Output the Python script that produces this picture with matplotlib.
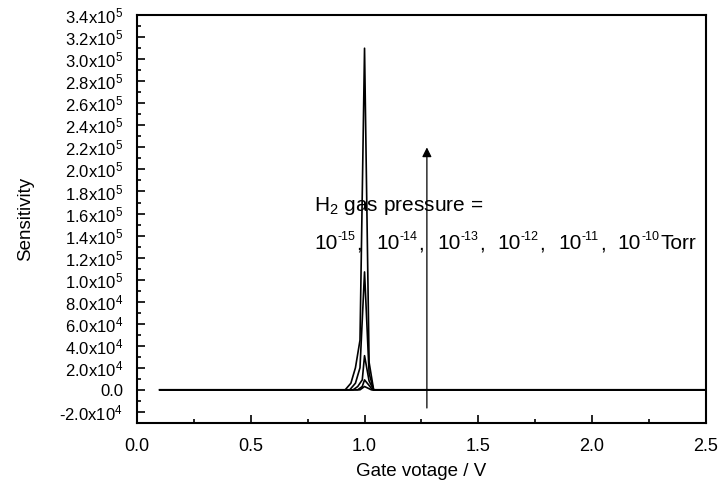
import math
import matplotlib
matplotlib.use("Agg")
import matplotlib.pyplot as plt
from matplotlib.ticker import MultipleLocator, FuncFormatter

plt.rcParams['font.family'] = ['Liberation Sans', 'DejaVu Sans']
plt.rcParams['mathtext.fontset'] = 'custom'
plt.rcParams['mathtext.rm'] = 'Liberation Sans'
plt.rcParams['mathtext.it'] = 'Liberation Sans'

# Gate voltage (V) and sensitivity for H2 pressures (1e-15 ... 1e-10 Torr)
x_p15 = [0.10, 0.98, 1.00, 1.02, 1.03, 2.50]
y_p15 = [0, 0, 3.0e3, 1.0e3, 0, 0]
x_p14 = [0.10, 0.97, 0.99, 1.00, 1.02, 1.035, 2.50]
y_p14 = [0, 0, 3.0e3, 9.0e3, 4.0e3, 0, 0]
x_p13 = [0.10, 0.95, 0.97, 0.99, 1.00, 1.02, 1.04, 2.50]
y_p13 = [0, 0, 3.0e3, 9.0e3, 3.1e4, 8.0e3, 0, 0]
x_p12 = [0.10, 0.935, 0.96, 0.98, 1.00, 1.02, 1.04, 2.50]
y_p12 = [0, 0, 6.0e3, 2.0e4, 1.07e5, 1.5e4, 0, 0]
x_p11 = [0.10, 0.915, 0.94, 0.96, 0.98, 1.00, 1.02, 1.04, 2.50]
y_p11 = [0, 0, 6.0e3, 2.0e4, 4.5e4, 3.1e5, 2.5e4, 0, 0]

series = [(x_p15, y_p15), (x_p14, y_p14), (x_p13, y_p13), (x_p12, y_p12), (x_p11, y_p11)]

pressure_exps = ['-15', '-14', '-13', '-12', '-11', '-10']

fig = plt.figure(figsize=(7.21, 4.90), dpi=100)
ax = fig.add_axes([0.190, 0.137, 0.789, 0.832])

for xs, ys in series:
    ax.plot(xs, ys, color='black', lw=1.2)

ax.set_xlim(0, 2.5)
ax.set_ylim(-3e4, 3.4e5)

ax.xaxis.set_major_locator(MultipleLocator(0.5))
ax.xaxis.set_minor_locator(MultipleLocator(0.25))
ax.yaxis.set_major_locator(MultipleLocator(2e4))
ax.yaxis.set_minor_locator(MultipleLocator(1e4))


def yfmt(v, pos):
    if abs(v) < 1e-6:
        return '0.0'
    e = int(math.floor(math.log10(abs(v)) + 1e-9))
    m = v / 10 ** e
    return r'%.1fx10$^{%d}$' % (m, e)


ax.xaxis.set_major_formatter(FuncFormatter(lambda v, p: '%.1f' % v))
ax.yaxis.set_major_formatter(FuncFormatter(yfmt))

ax.tick_params(axis='both', which='both', direction='in', top=False, right=False, width=1.2)
ax.tick_params(axis='both', which='major', length=6)
ax.tick_params(axis='both', which='minor', length=3)
ax.tick_params(axis='x', which='major', pad=11, labelsize=13)
ax.tick_params(axis='y', which='major', pad=10, labelsize=12)
for s in ax.spines.values():
    s.set_linewidth(1.5)

ax.set_xlabel('Gate votage / V', fontsize=13.5, labelpad=6)
ax.set_ylabel('Sensitivity', fontsize=13.5, labelpad=18)

ax.annotate('', xy=(1.274, 2.2e5), xytext=(1.274, -1.65e4),
            arrowprops=dict(arrowstyle='-|>', color='black', lw=0.9,
                            mutation_scale=14, shrinkA=0, shrinkB=0))

ax.text(0.778, 1.62e5, r'H$_{2}$ gas pressure =', fontsize=15, va='baseline')

line2_y = 1.275e5
line2_x = [0.778, 1.050, 1.318, 1.582, 1.850, 2.113]
for i, (xp, ex) in enumerate(zip(line2_x, pressure_exps)):
    ax.text(xp, line2_y, '10', fontsize=15, va='baseline')
    ax.annotate(ex, xy=(xp, line2_y), xytext=(16.8, 6.5), textcoords='offset points',
                fontsize=9, va='baseline', ha='left')
    if i < len(pressure_exps) - 1:
        ax.annotate(',', xy=(xp, line2_y), xytext=(30.5, 0), textcoords='offset points',
                    fontsize=15, va='baseline', ha='left')
    else:
        ax.annotate('Torr', xy=(xp, line2_y), xytext=(30.5, 0), textcoords='offset points',
                    fontsize=15, va='baseline', ha='left')

fig.savefig('out.png', dpi=100)
